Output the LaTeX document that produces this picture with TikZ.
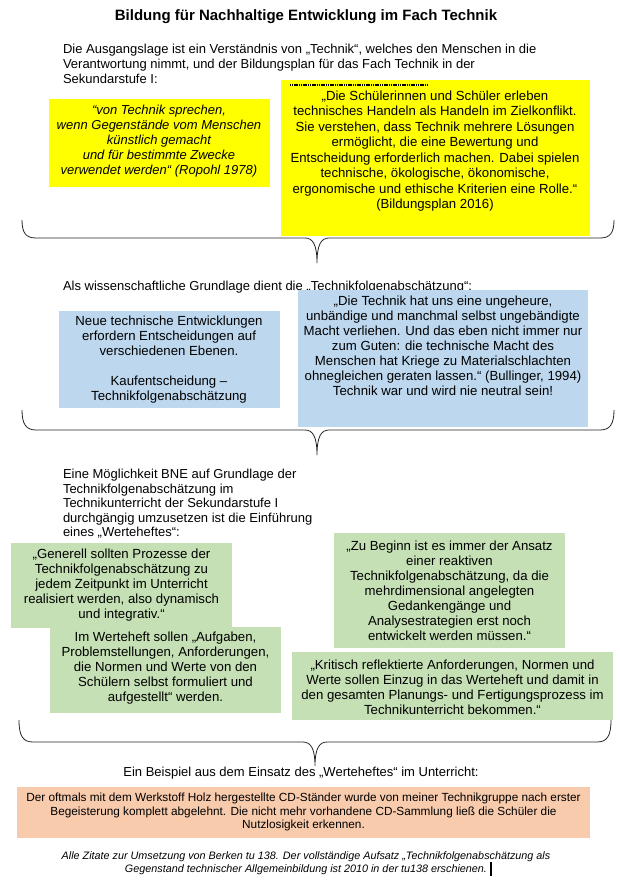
\documentclass[tikz,border=0pt]{standalone}
\usepackage{fontspec}
\setmainfont{Liberation Sans}
\definecolor{ylw}{HTML}{FFFF00}
\definecolor{blu}{HTML}{BDD7EE}
\definecolor{grn}{HTML}{C5E0B4}
\definecolor{org}{HTML}{F8CBAD}
\begin{document}
\begin{tikzpicture}[x=1pt,y=-1pt,
  bx/.style={anchor=north west, inner sep=0, outer sep=0, draw=none},
  tx/.style={inner sep=0, outer sep=0, align=center, font=\fontsize{13.2}{15}\selectfont},
  brc/.style={line width=0.8pt, draw=black!85}]
\useasboundingbox[fill=white] (0,0) rectangle (620,883);
% title
\node[tx, font=\bfseries\fontsize{15}{17}\selectfont] (title) at (306,17) {Bildung für Nachhaltige Entwicklung im Fach Technik};
% intro
\node[tx, align=left, anchor=west, font=\fontsize{13}{15}\selectfont] (intro) at (63,64) {Die Ausgangslage ist ein Verständnis von „Technik“, welches den Menschen in die\\Verantwortung nimmt, und der Bildungsplan für das Fach Technik in der\\Sekundarstufe I:};
% yellow boxes
\node[bx, fill=ylw, minimum width=221pt, minimum height=88pt] (yb1) at (49,99) {};
\node[tx, font=\itshape\fontsize{13}{15}\selectfont] (yt1) at (159,141) {“von Technik sprechen,\\wenn Gegenstände vom Menschen\\künstlich gemacht\\und für bestimmte Zwecke\\verwendet werden“ (Ropohl 1978)};
\node[bx, fill=ylw, minimum width=309pt, minimum height=156pt] (yb2) at (281,80) {};
\draw[line width=2.5pt, dash pattern=on 1.2pt off 0.6pt] (290,85) -- (427,85);
\node[tx, font=\fontsize{13.2}{15.5}\selectfont] (yt2) at (435,151) {„Die Schülerinnen und Schüler erleben\\technisches Handeln als Handeln im Zielkonflikt.\\Sie verstehen, dass Technik mehrere Lösungen\\ermöglicht, die eine Bewertung und\\Entscheidung erforderlich machen. Dabei spielen\\technische, ökologische, ökonomische,\\ergonomische und ethische Kriterien eine Rolle.“\\(Bildungsplan 2016)};
% brace 1
\draw[brc] (22,220) .. controls (22,233) and (26,238) .. (36,238) -- (305,238) .. controls (313,238) and (317,245) .. (317,263) .. controls (317,245) and (321,238) .. (329,238) -- (600,238) .. controls (610,238) and (614,233) .. (614,220);
% second section
\node[tx, anchor=west, font=\fontsize{13}{15}\selectfont] (als) at (63,287) {Als wissenschaftliche Grundlage dient die „Technikfolgenabschätzung“:};
\node[bx, fill=blu, minimum width=221pt, minimum height=97pt] (bb1) at (59,311) {};
\node[tx] (bt1) at (169,360) {Neue technische Entwicklungen\\erfordern Entscheidungen auf\\verschiedenen Ebenen.\\[15pt]Kaufentscheidung –\\Technikfolgenabschätzung};
\node[bx, fill=blu, minimum width=290pt, minimum height=137pt] (bb2) at (298,290) {};
\node[tx] (bt2) at (443,346) {„Die Technik hat uns eine ungeheure,\\unbändige und manchmal selbst ungebändigte\\Macht verliehen. Und das eben nicht immer nur\\zum Guten: die technische Macht des\\Menschen hat Kriege zu Materialschlachten\\ohnegleichen geraten lassen.“ (Bullinger, 1994)\\Technik war und wird nie neutral sein!};
% brace 2
\draw[brc] (22,410) .. controls (22,424) and (26,430) .. (36,430) -- (305,430) .. controls (313,430) and (317,437) .. (317,455) .. controls (317,437) and (321,430) .. (329,430) -- (600,430) .. controls (610,430) and (614,424) .. (614,410);
% third section
\node[tx, align=left, anchor=west, font=\fontsize{13}{14.5}\selectfont] (eine) at (63,504) {Eine Möglichkeit BNE auf Grundlage der\\Technikfolgenabschätzung im\\Technikunterricht der Sekundarstufe I\\durchgängig umzusetzen ist die Einführung\\eines „Werteheftes“:};
\node[bx, fill=grn, minimum width=221pt, minimum height=85pt] (gb1) at (11,543) {};
\node[tx] (gt1) at (121.5,585.5) {„Generell sollten Prozesse der\\Technikfolgenabschätzung zu\\jedem Zeitpunkt im Unterricht\\realisiert werden, also dynamisch\\und integrativ.“};
\node[bx, fill=grn, minimum width=231pt, minimum height=86pt] (gb2) at (50,627) {};
\node[tx] (gt2) at (165.5,668.5) {Im Werteheft sollen „Aufgaben,\\Problemstellungen, Anforderungen,\\die Normen und Werte von den\\Schülern selbst formuliert und\\aufgestellt“ werden.};
\node[bx, fill=grn, minimum width=231pt, minimum height=115pt] (gb3) at (334,533) {};
\node[tx] (gt3) at (449.5,590.5) {„Zu Beginn ist es immer der Ansatz\\einer reaktiven\\Technikfolgenabschätzung, da die\\mehrdimensional angelegten\\Gedankengänge und\\Analysestrategien erst noch\\entwickelt werden müssen.“};
\node[bx, fill=grn, minimum width=321pt, minimum height=68pt] (gb4) at (292,652) {};
\node[tx] (gt4) at (452.5,687) {„Kritisch reflektierte Anforderungen, Normen und\\Werte sollen Einzug in das Werteheft und damit in\\den gesamten Planungs- und Fertigungsprozess im\\Technikunterricht bekommen.“};
% brace 3
\draw[brc] (19,720) .. controls (19,736) and (23,742) .. (33,742) -- (303,742) .. controls (311,742) and (315,749) .. (315,766) .. controls (315,749) and (319,742) .. (327,742) -- (597,742) .. controls (607,742) and (611,736) .. (611,720);
% example
\node[tx, font=\fontsize{13}{15}\selectfont] (beisp) at (301,773) {Ein Beispiel aus dem Einsatz des „Werteheftes“ im Unterricht:};
\node[bx, fill=org, minimum width=573pt, minimum height=51pt] (ob) at (17,787) {};
\node[tx, font=\fontsize{11.8}{13.5}\selectfont] (ot) at (303.5,812) {Der oftmals mit dem Werkstoff Holz hergestellte CD-Ständer wurde von meiner Technikgruppe nach erster\\Begeisterung komplett abgelehnt. Die nicht mehr vorhandene CD-Sammlung ließ die Schüler die\\Nutzlosigkeit erkennen.};
% footnote
\node[tx, font=\itshape\fontsize{10.8}{13}\selectfont] (foot) at (306,863) {Alle Zitate zur Umsetzung von Berken tu 138. Der vollständige Aufsatz „Technikfolgenabschätzung als\\Gegenstand technischer Allgemeinbildung ist 2010 in der tu138 erschienen.};
\draw[line width=1.8pt] (491,862) -- (491,876);
\end{tikzpicture}
\end{document}
